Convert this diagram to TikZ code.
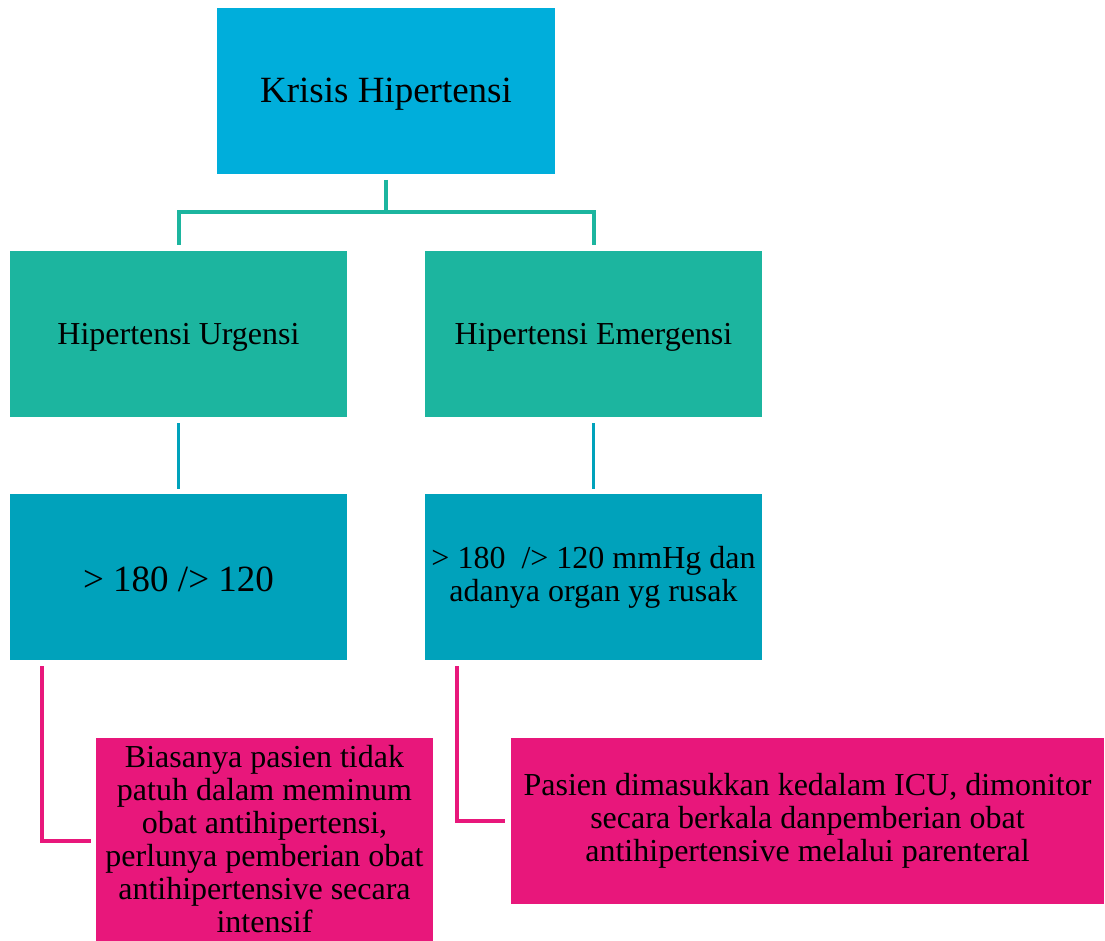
\documentclass[tikz,border=0pt]{standalone}
\usepackage{fontspec}
\setmainfont{Liberation Serif}
\definecolor{headcyan}{HTML}{00AEDB}
\definecolor{typeteal}{HTML}{1CB59F}
\definecolor{valueblue}{HTML}{00A2BB}
\definecolor{notepink}{HTML}{E8177B}
% lower a line of text without changing the box size used for centring
\newcommand{\lowerby}[2]{\raisebox{-#1}[\height][\depth]{#2}}
\begin{document}
\begin{tikzpicture}[x=1pt,y=-1pt,
  box/.style={rectangle, inner sep=0pt, outer sep=0pt, align=center,
    text=black, minimum width=337pt, minimum height=166pt},
  bigtext/.style={font=\fontsize{37}{40}\selectfont},
  midtext/.style={font=\fontsize{32}{33}\selectfont},
  tealline/.style={draw=typeteal, line width=4pt},
  blueline/.style={draw=valueblue, line width=3pt},
  pinkline/.style={draw=notepink, line width=4pt}]
\useasboundingbox (0,0) rectangle (1105,941);

% level 1
\node[box, fill=headcyan, minimum width=338pt, bigtext] (top) at (386,91) {\lowerby{3pt}{Krisis Hipertensi}};

% level 2
\node[box, fill=typeteal, midtext] (urg) at (178.5,334) {\lowerby{3pt}{Hipertensi Urgensi}};
\node[box, fill=typeteal, midtext] (emg) at (593.5,334) {\lowerby{3pt}{Hipertensi Emergensi}};

% level 3
\node[box, fill=valueblue, bigtext] (urgval) at (178.5,577) {\lowerby{2pt}{> 180 /> 120}};
\node[box, fill=valueblue, midtext] (emgval) at (593.5,577) {> 180 \ /> 120 mmHg dan\\adanya organ yg rusak};

% notes
\node[box, fill=notepink, midtext, minimum height=203pt] (noteL) at (264.5,839.5)
  {Biasanya pasien tidak\\patuh dalam meminum\\obat antihipertensi,\\perlunya pemberian obat\\antihipertensive secara\\intensif};
\node[box, fill=notepink, midtext, minimum width=593pt, minimum height=166pt] (noteR) at (807.5,821)
  {Pasien dimasukkan kedalam ICU, dimonitor\\secara berkala danpemberian obat\\antihipertensive melalui parenteral};

% connectors
\coordinate (split) at (386,212);
\draw[tealline] ([yshift=-6pt]top.south) -- (split);
\draw[tealline] ([yshift=6pt]urg.north) |- (split) -| ([yshift=6pt]emg.north);

\draw[blueline] ([yshift=-6pt]urg.south) -- ([yshift=5pt]urgval.north);
\draw[blueline] ([yshift=-6pt]emg.south) -- ([yshift=5pt]emgval.north);

\draw[pinkline] ([xshift=32pt,yshift=-6pt]urgval.south west) |- ([xshift=-5pt,yshift=-1.5pt]noteL.west);
\draw[pinkline] ([xshift=32pt,yshift=-6pt]emgval.south west) |- ([xshift=-6pt]noteR.west);
\end{tikzpicture}
\end{document}
